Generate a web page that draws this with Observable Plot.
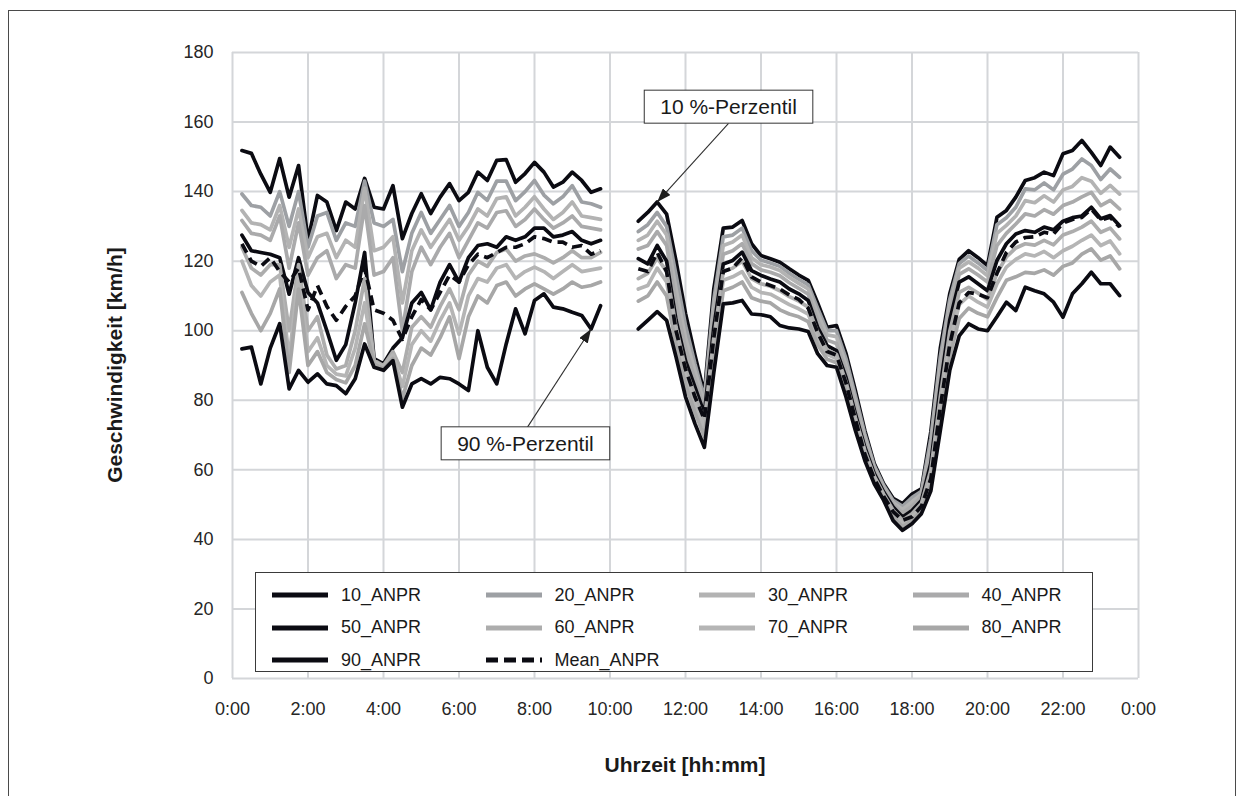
<!DOCTYPE html>
<html>
<head>
<meta charset="utf-8">
<script src="https://cdn.jsdelivr.net/npm/d3@7"></script>
<script src="https://cdn.jsdelivr.net/npm/@observablehq/plot@0.6"></script>
<style>
  body { margin: 0; background: #fff; font-family: "Liberation Sans", Arial, sans-serif; }
  #wrap { position: relative; width: 1244px; height: 796px; overflow: hidden; background: #fff; }
  #chart { position: absolute; left: 0; top: 0; }
  #frame { position: absolute; left: 8px; top: 10px; width: 1228px; height: 820px; border: 1px solid #4a4a4a; box-sizing: border-box; pointer-events: none; }
  #legend { position: absolute; left: 255px; top: 572px; width: 838px; height: 100px; border: 1px solid #3a3a3a; box-sizing: border-box; background: #fff;
            display: grid; grid-template-columns: repeat(4, 213.5px); grid-auto-rows: 32.5px; padding: 6px 0 0 16px; }
  .item { display: flex; align-items: center; font-size: 18px; color: #1a1a1a; white-space: nowrap; }
  .item svg { margin-right: 13px; }
  .title { position: absolute; font-weight: bold; font-size: 21px; color: #1a1a1a; white-space: nowrap; }
  #ytitle { left: 115px; top: 365px; transform: translate(-50%, -50%) rotate(-90deg); }
  #xtitle { left: 685px; top: 765px; transform: translate(-50%, -50%); }
</style>
</head>
<body>
<div id="wrap">
  <div id="chart"></div>
  <div id="legend"></div>
  <div class="title" id="ytitle">Geschwindigkeit [km/h]</div>
  <div class="title" id="xtitle">Uhrzeit [hh:mm]</div>
  <div id="frame"></div>
</div>
<script>
// Time of day of each measurement (15-minute steps, night and day blocks)
const times = [
  "0:15","0:30","0:45","1:00","1:15","1:30","1:45","2:00","2:15","2:30","2:45","3:00","3:15","3:30","3:45","4:00",
  "4:15","4:30","4:45","5:00","5:15","5:30","5:45","6:00","6:15","6:30","6:45","7:00","7:15","7:30","7:45","8:00",
  "8:15","8:30","8:45","9:00","9:15","9:30","9:45",
  "10:45","11:00","11:15","11:30","11:45","12:00","12:15","12:30","12:45","13:00","13:15","13:30","13:45","14:00",
  "14:15","14:30","14:45","15:00","15:15","15:30","15:45","16:00","16:15","16:30","16:45","17:00","17:15","17:30",
  "17:45","18:00","18:15","18:30","18:45","19:00","19:15","19:30","19:45","20:00","20:15","20:30","20:45","21:00",
  "21:15","21:30","21:45","22:00","22:15","22:30","22:45","23:00","23:15","23:30"
];

// Speed percentiles in km/h (ANPR), same order as times
const anpr10 = [
  151.8,151,145,139.8,149.5,138.4,147.5,126,138.9,137,128.8,137,135,143.8,135.5,135,141.7,126.5,133.7,139.4,
  133.7,138.4,142.3,137.4,139.8,145.6,143.2,149,149.2,142.7,145.2,148.4,145.6,141.3,142.7,145.6,143.2,139.8,140.8,
  131.5,134,137,133.5,120,105,93,82,112,129.5,129.8,131.7,125,121.6,120.7,119.7,117.8,116,114.5,108,101,101.5,
  93.5,82.8,71.3,61.8,56,51.8,50.3,53,54.5,71,95,110.6,120.5,123,121,118.7,132.6,134.6,138.4,143.2,144,145.6,
  144.6,150.9,151.8,154.7,151.3,147.5,152.8,149.9
];
const anpr20 = [
  139.3,136,135.5,133,140,130,140,124,133,134,126,131,130,143,131,130,132,117,128,134,
  128,132,136,130,134,139.8,137.5,143,143,137.4,140,143.2,139,136.5,138.5,141.7,137,136.5,135.5,
  128.5,130.5,134,130,116,101.5,90.5,80.5,109,127,127.5,129.5,123,120.3,119.5,118.5,116.5,114.8,113.2,106.5,100,100,
  92,81.3,70.3,61.2,55.5,51.2,49.5,52,53.8,69,92.5,109,119.3,121.5,119.5,117.3,130.5,132.5,135.5,140.8,140.5,142.5,
  140.5,145,146.5,149.4,147.5,143.5,146.5,144.1
];
const anpr30 = [
  134.6,131,130.5,129,136,124,135,121,127,128,121,126,124,141,123,124,127,108,123,129,
  124,128,132,126,130,135,133,138,138.5,133,135.5,138.5,135,132,134,137,133,132.5,132,
  126,127.5,131.5,127.5,112,98,88.5,79,106.5,124.5,125.5,127.5,121,119,118.3,117.3,115.3,113.6,112,105,98.8,98.3,
  90.3,79.8,69.2,60.5,55,50.6,48.6,50.8,53,66.8,90,107.3,118,119.8,118,115.8,128,130.3,133,137.4,136.8,138.8,
  137,140.5,141.5,144,143,139.5,141.8,139.3
];
const anpr40 = [
  131.7,128,127.5,126,133,118,131,116,121,123,115,119,118,136,116,117,121,100,117,124,
  119,124,128,121,126,131,129.5,134,134.5,130,132,135,132,129.5,131,133,130,129.5,129,
  123.5,124.5,128.5,124.5,108,95,86,77.5,104,122,123,125,119.3,117.5,116.8,115.8,113.8,112.2,110.5,103,97.3,96.3,
  88.5,78,67.8,59.7,54.3,50,47.6,49.6,52.2,64.5,87,105.3,116.2,117.8,116,114,124.5,128,130.7,133.6,133,134.8,
  133.5,136,137,138.5,139.8,136,137.5,135
];
const anpr50 = [
  127.5,123,122.5,122,121,110.5,121,111,108,100,91.5,96,108,122.5,92,90.5,95,98,108,111,
  106,114,119,114,121,124.5,125,124,127,126,127,129.5,129.5,127,127.5,128.5,126,125,126,
  120.7,119.2,124.5,120,103,91.4,83.8,76.1,101,119.2,120.2,122.6,117.3,115.9,114.9,114,112,110.6,108.7,101,95.7,94.3,
  86.6,76.1,66.5,58.9,53.6,49.3,46.4,48.3,51.2,62,84,103,114,115.5,113.5,111.5,120.2,125,127.8,128.8,128.3,129.8,
  129,131.5,132.5,133,135.5,132.2,133.1,130.2
];
const anpr60 = [
  124,118,116,119,119,100,119,100,104,93,89,90,100,115,91.5,90,94,88,101,104,
  101,107,112,106,116,120,118.5,122.5,123.5,120,121.5,122.1,121,119.5,121,123,121,121,122.5,
  115,116.5,121,117,101,89,81.5,74,98,117,118,120,115,113.5,112.8,111.5,109.8,108.5,106.8,99.5,94.5,93.2,
  85.3,75,65.6,58.2,53,48.4,45.5,47.4,50.3,60,81,99.8,111,112.5,110.8,109,116.5,121.2,123.8,125,124.6,126,
  124.7,127.5,128.5,129.8,131.5,128.3,129.5,126.4
];
const anpr70 = [
  120,113,110,114,116,92,116,94,98,90,87.5,87,95,108,91,89.5,93,84,96,100,
  97,103,108,99,110,115,114,118,119,115,117,118.3,117,115,117,119,117,117.5,118,
  112,113,118,114,98.5,87,79,72,95,114.5,115.5,117,112.5,111,110.5,109,107.5,106.3,104.8,97.8,93.2,92,
  84,73.8,64.6,57.5,52.4,47.4,44.6,46.5,49.3,58,78,96.3,107.5,110,108.2,106.8,113.5,118.3,120.5,122.1,121.5,122.8,
  121,123,124.3,126,127.5,124.5,125.8,122.1
];
const anpr80 = [
  111,105,100,105,112,88,112,90,94,88,86,85,90,102,90.5,89,92,80.5,90,95,
  93,98,104,92,104,110,108,113,114,110,112,113.5,112,110.5,112,114,112.5,113,114,
  108.5,110,114,110,96,84.5,76.5,69.5,91.5,111.5,112.5,114,109.5,108.5,108,106,104.8,104,102.6,96,91.8,90.8,
  82.6,72.6,63.7,56.8,51.8,46.4,43.6,45.5,48.3,56,74.5,92.5,103.5,106.5,105,104,109.5,114.5,115.5,116.8,116.5,117.5,
  116,118.5,119.5,122,123.5,120.3,121.5,117.8
];
const anpr90 = [
  94.8,95.3,84.7,95,102,83.3,88.6,85.2,87.6,84.7,84.2,81.9,86.2,96.2,89.5,88.6,91.4,78,84.7,86.2,
  84.7,86.6,86.2,84.7,82.8,100,89.5,84.7,96.2,106.3,99.1,108.7,110.6,106.8,106.3,105.3,104.4,100.5,107.2,
  100.5,103,105.5,103,92.4,81,73.3,66.5,88,107.7,108,108.7,104.8,104.6,104,101.5,100.8,100.5,99.8,93.4,90,89.5,
  81,71.3,62.7,56,51.2,45.4,42.6,44.5,47.4,54,71.3,88.6,98.5,102,100.5,100,104,108.2,105.8,112.5,111.5,110.6,
  108.2,103.9,110.6,113.5,116.8,113.5,113.5,110.1
];
const anprMean = [
  125,120,118.5,121,117,114,118,106,113,107,103,107,110,118,106,105,103,97.5,104,109,
  106,111,116,114,119,122,121,122.5,124,124,125,127,126.5,125.5,125.5,124,124.5,122,123,
  117.8,117,122.5,117,100,89,81,74.5,98,117,118,121,115.5,114,113,112,110.3,109,106.5,99.5,94,93,
  85,74.5,64.5,57.5,52.3,48,45.5,46.5,49.5,57.5,78,96,108,111,110.5,109.5,116.5,122.5,125.5,126.8,127,128.3,
  127.8,131,132,132.6,135,131.8,132.6,129.8
];

const seriesNames = ["10_ANPR","20_ANPR","30_ANPR","40_ANPR","50_ANPR","60_ANPR","70_ANPR","80_ANPR","90_ANPR","Mean_ANPR"];
const seriesValues = [anpr10, anpr20, anpr30, anpr40, anpr50, anpr60, anpr70, anpr80, anpr90, anprMean];
const seriesColors = ["#0b0b12","#9da0a4","#b3b3b3","#aaaaab","#0b0b12","#adadad","#b5b5b5","#a7a7a7","#0b0b12","#0b0b12"];
const seriesDash   = [null,null,null,null,null,null,null,null,null,"10,6"];

const xTicks = [0,2,4,6,8,10,12,14,16,18,20,22,24];
const yTicks = [0,20,40,60,80,100,120,140,160,180];

// Callouts naming the outer percentiles
const callouts = [
  {label: "10 %-Perzentil", series: "10_ANPR", at: "11:15", boxT: 13.14, boxV: 164.2, tailT: 13.14, tailV: 159.6},
  {label: "90 %-Perzentil", series: "90_ANPR", at: "9:30",  boxT: 7.76,  boxV: 67.4,  tailT: 7.81,  tailV: 72.2}
];

const hours = s => { const [h, m] = s.split(":").map(Number); return h + m / 60; };
const tHours = times.map(hours);

// One row per point; "part" separates the block before and after the data gap
const rowsFor = (name, values) => values.map((v, i) => ({series: name, t: tHours[i], v, part: tHours[i] < 10.25 ? 0 : 1}));

const lineMarks = seriesNames.map((name, k) =>
  Plot.line(rowsFor(name, seriesValues[k]), {
    x: "t", y: "v", z: "part",
    stroke: seriesColors[k],
    strokeWidth: 3.7,
    strokeDasharray: seriesDash[k] ?? undefined,
    strokeLinecap: seriesDash[k] ? "butt" : "round",
    strokeLinejoin: "round"
  })
);

const noteRows = callouts.map(c => {
  const k = seriesNames.indexOf(c.series);
  const i = times.indexOf(c.at);
  return {...c, tipT: tHours[i], tipV: seriesValues[k][i]};
});

const chart = Plot.plot({
  width: 1244,
  height: 796,
  marginLeft: 232,
  marginRight: 106,
  marginTop: 52,
  marginBottom: 118,
  style: {fontFamily: '"Liberation Sans", Arial, sans-serif', fontSize: "18px", color: "#262626", background: "transparent", overflow: "visible"},
  x: {type: "linear", domain: [0, 24], ticks: xTicks, tickFormat: d => `${d % 24}:00`, tickSize: 0, tickPadding: 24, label: null},
  y: {domain: [0, 180], ticks: yTicks, tickSize: 0, tickPadding: 19, label: null},
  marks: [
    Plot.ruleX(xTicks, {stroke: "#d4d6d9", strokeWidth: 2}),
    Plot.ruleY(yTicks, {stroke: "#d4d6d9", strokeWidth: 2}),
    ...lineMarks,
    Plot.link(noteRows, {x1: "tailT", y1: "tailV", x2: "tipT", y2: "tipV", stroke: "#2e2e2e", strokeWidth: 1.1}),
    Plot.text(noteRows, {x: "boxT", y: "boxV", text: "label", fontSize: 21, fill: "#1a1a1a", textAnchor: "middle"})
  ]
});

document.getElementById("chart").append(chart);

// Arrow heads for the callout leaders
const NS = "http://www.w3.org/2000/svg";
const defs = document.createElementNS(NS, "defs");
const marker = document.createElementNS(NS, "marker");
marker.setAttribute("id", "callout-head");
marker.setAttribute("viewBox", "0 0 14 10");
marker.setAttribute("refX", "14");
marker.setAttribute("refY", "5");
marker.setAttribute("markerWidth", "14");
marker.setAttribute("markerHeight", "10");
marker.setAttribute("markerUnits", "userSpaceOnUse");
marker.setAttribute("orient", "auto");
const head = document.createElementNS(NS, "path");
head.setAttribute("d", "M0,0L14,5L0,10Z");
head.setAttribute("fill", "#1e1e1e");
marker.append(head);
defs.append(marker);
chart.insertBefore(defs, chart.firstChild);
chart.querySelectorAll('g[aria-label="link"] path').forEach(p => p.setAttribute("marker-end", "url(#callout-head)"));

// Framed boxes behind the callout labels
chart.querySelectorAll('g[aria-label="text"] text').forEach(t => {
  const b = t.getBBox();
  const r = document.createElementNS(NS, "rect");
  r.setAttribute("x", b.x - 16);
  r.setAttribute("y", b.y - 5);
  r.setAttribute("width", b.width + 32);
  r.setAttribute("height", b.height + 10);
  r.setAttribute("fill", "#fff");
  r.setAttribute("stroke", "#333");
  r.setAttribute("stroke-width", "1");
  if (t.getAttribute("transform")) r.setAttribute("transform", t.getAttribute("transform"));
  t.parentNode.insertBefore(r, t);
});

// Legend
const legend = document.getElementById("legend");
seriesNames.forEach((name, k) => {
  const item = document.createElement("div");
  item.className = "item";
  const sw = document.createElementNS(NS, "svg");
  sw.setAttribute("width", "56");
  sw.setAttribute("height", "8");
  const ln = document.createElementNS(NS, "line");
  ln.setAttribute("x1", "0"); ln.setAttribute("x2", "56");
  ln.setAttribute("y1", "4"); ln.setAttribute("y2", "4");
  ln.setAttribute("stroke", seriesColors[k]);
  ln.setAttribute("stroke-width", "5");
  if (seriesDash[k]) ln.setAttribute("stroke-dasharray", "12,6");
  sw.append(ln);
  item.append(sw);
  const label = document.createElement("span");
  label.textContent = name;
  item.append(label);
  legend.append(item);
});
</script>
</body>
</html>
